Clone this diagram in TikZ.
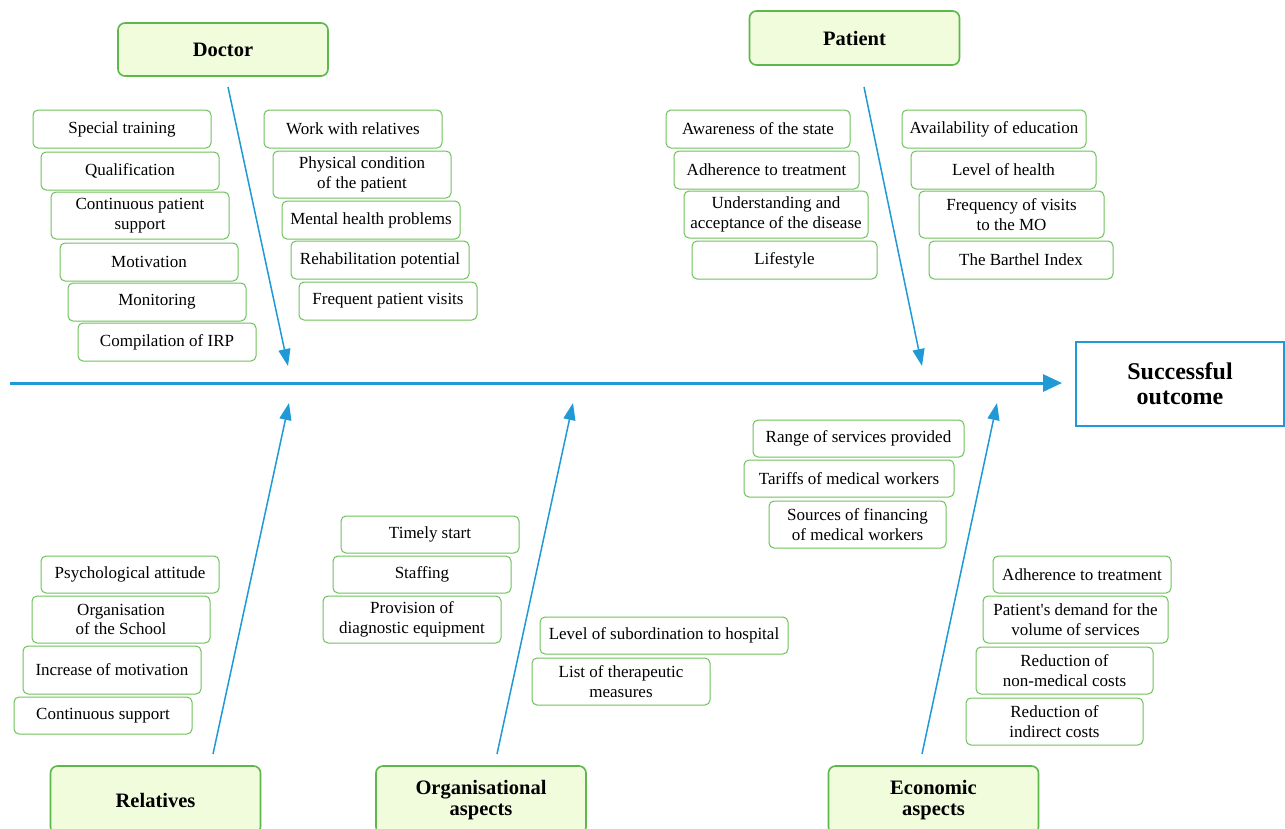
\documentclass[tikz,border=0pt]{standalone}
\usepackage{fontspec}
\setmainfont{Liberation Serif}[Ligatures=TeXOff]
\usetikzlibrary{arrows.meta}
\definecolor{bgreen}{HTML}{6CC25A}
\definecolor{kgreen}{HTML}{5CB848}
\definecolor{kfill}{HTML}{F1FCDC}
\definecolor{fblue}{HTML}{1F9AD6}
\tikzset{
  sbox/.style={draw=bgreen, line width=1pt, rounded corners=5pt, fill=white, align=center,
    inner sep=0pt, font=\fontsize{17}{19.5}\selectfont},
  kbox/.style={draw=kgreen, line width=1.6pt, rounded corners=7pt, fill=kfill, align=center,
    inner sep=0pt, minimum width=210pt, font=\fontsize{20.5}{21}\selectfont\bfseries},
  bone/.style={draw=fblue, line width=1.5pt, -{Triangle[length=17pt,width=12pt]}},
  spine/.style={draw=fblue, line width=3pt, -{Triangle[length=19pt,width=17pt]}},
  obox/.style={draw=fblue, line width=2pt, fill=white, align=center, inner sep=0pt,
    font=\fontsize{24}{25}\selectfont\bfseries}
}
\begin{document}
\begin{tikzpicture}[x=1pt,y=-1pt]
\clip (0,0) rectangle (1285,828);
\fill[white] (0,0) rectangle (1285,828);
% key boxes
\node[kbox, minimum height=53pt] (doc) at (223,49.5) {Doctor};
\node[kbox, minimum height=54pt] (pat) at (854.5,38) {Patient};
\node[kbox, minimum height=68pt] (rel) at (155.5,800) {Relatives};
\node[kbox, minimum height=68pt] (org) at (481,800) {Organisational\\aspects};
\node[kbox, minimum height=68pt] (eco) at (933.5,800) {Economic\\aspects};
\node[obox, minimum width=208pt, minimum height=84pt] (so) at (1180,384) {Successful\\outcome};
% Doctor causes
\node[sbox, minimum width=178pt, minimum height=38pt] (d1) at (122,129) {Special training};
\node[sbox, minimum width=178pt, minimum height=38pt] (d2) at (130,171) {Qualification};
\node[sbox, minimum width=178pt, minimum height=47pt] (d3) at (140,215.5) {Continuous patient\\support};
\node[sbox, minimum width=178pt, minimum height=38pt] (d4) at (149,262) {Motivation};
\node[sbox, minimum width=178pt, minimum height=38pt] (d5) at (157,302) {Monitoring};
\node[sbox, minimum width=178pt, minimum height=38pt] (d6) at (167,342) {Compilation of IRP};
\node[sbox, minimum width=178pt, minimum height=38pt] (d7) at (353,129) {Work with relatives};
\node[sbox, minimum width=178pt, minimum height=47pt] (d8) at (362,174.5) {Physical condition\\of the patient};
\node[sbox, minimum width=178pt, minimum height=38pt] (d9) at (371,220) {Mental health problems};
\node[sbox, minimum width=178pt, minimum height=38pt] (d10) at (380,260) {Rehabilitation potential};
\node[sbox, minimum width=178pt, minimum height=38pt] (d11) at (388,301) {Frequent patient visits};
% Patient causes
\node[sbox, minimum width=184pt, minimum height=38pt] (p1) at (758,129) {Awareness of the state};
\node[sbox, minimum width=185pt, minimum height=38pt] (p2) at (766.5,170) {Adherence to treatment};
\node[sbox, minimum width=184pt, minimum height=47pt] (p3) at (776,214.5) {Understanding and\\acceptance of the disease};
\node[sbox, minimum width=185pt, minimum height=38pt] (p4) at (784.5,260) {Lifestyle};
\node[sbox, minimum width=184pt, minimum height=38pt] (p5) at (994,129) {Availability of education};
\node[sbox, minimum width=185pt, minimum height=38pt] (p6) at (1003.5,170) {Level of health};
\node[sbox, minimum width=185pt, minimum height=47pt] (p7) at (1011.5,214.5) {Frequency of visits\\to the MO};
\node[sbox, minimum width=184pt, minimum height=38pt] (p8) at (1021,260) {The Barthel Index};
% Relatives causes
\node[sbox, minimum width=178pt, minimum height=37pt] (r1) at (130,574.5) {Psychological attitude};
\node[sbox, minimum width=178pt, minimum height=47pt] (r2) at (121,619.5) {Organisation\\of the School};
\node[sbox, minimum width=178pt, minimum height=48pt] (r3) at (112,670) {Increase of motivation};
\node[sbox, minimum width=178pt, minimum height=37pt] (r4) at (103,715.5) {Continuous support};
% Organisational causes
\node[sbox, minimum width=178pt, minimum height=37pt] (o1) at (430,534.5) {Timely start};
\node[sbox, minimum width=178pt, minimum height=37pt] (o2) at (422,574.5) {Staffing};
\node[sbox, minimum width=178pt, minimum height=47pt] (o3) at (412,619.5) {Provision of\\diagnostic equipment};
\node[sbox, minimum width=248pt, minimum height=37pt] (o4) at (664,635.5) {Level of subordination to hospital};
\node[sbox, minimum width=178pt, minimum height=47pt] (o5) at (621,681.5) {List of therapeutic\\measures};
% Economic causes
\node[sbox, minimum width=211pt, minimum height=37pt] (e1) at (858.5,438.5) {Range of services provided};
\node[sbox, minimum width=210pt, minimum height=37pt] (e2) at (849,478.5) {Tariffs of medical workers};
\node[sbox, minimum width=177pt, minimum height=47pt] (e3) at (857.5,524.5) {Sources of financing\\of medical workers};
\node[sbox, minimum width=178pt, minimum height=37pt] (e4) at (1082,574.5) {Adherence to treatment};
\node[sbox, minimum width=185pt, minimum height=47pt] (e5) at (1075.5,619.5) {Patient's demand for the\\volume of services};
\node[sbox, minimum width=177pt, minimum height=47pt] (e6) at (1064.5,670.5) {Reduction of\\non-medical costs};
\node[sbox, minimum width=177pt, minimum height=47pt] (e7) at (1054.5,721.5) {Reduction of\\indirect costs};
% bone end points
\coordinate (spS) at (10,383);
\coordinate (spE) at (1062,383);
\coordinate (dS) at (228,87);
\coordinate (dE) at (288,366);
\coordinate (pS) at (864,87);
\coordinate (pE) at (922,366);
\coordinate (rS) at (213,754);
\coordinate (rE) at (289,403);
\coordinate (oS) at (497,754);
\coordinate (oE) at (573,403);
\coordinate (eS) at (922,754);
\coordinate (eE) at (997,403);
% connectors
\draw[spine] (spS) -- (spE);
\draw[bone] (dS) -- (dE);
\draw[bone] (pS) -- (pE);
\draw[bone] (rS) -- (rE);
\draw[bone] (oS) -- (oE);
\draw[bone] (eS) -- (eE);
\end{tikzpicture}
\end{document}
